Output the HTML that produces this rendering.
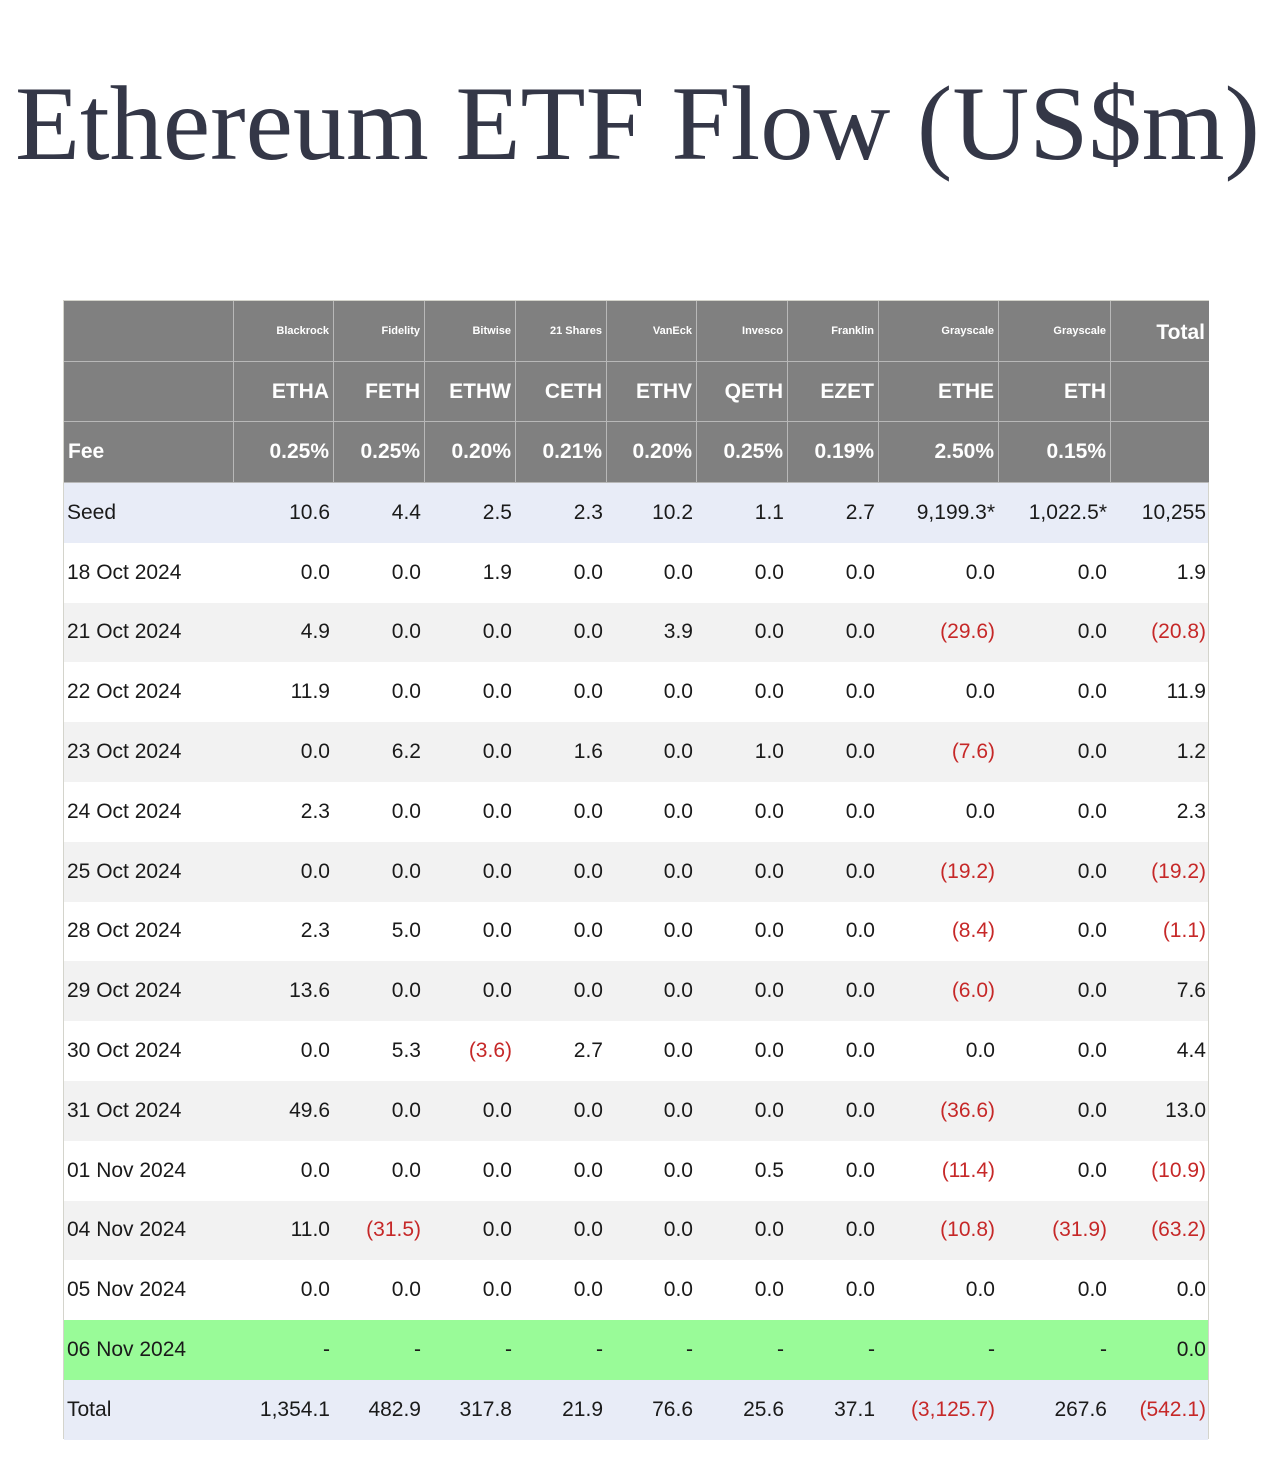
<!DOCTYPE html>
<html><head><meta charset="utf-8"><style>
body{margin:0;width:1280px;height:1460px;background:#fff;position:relative;overflow:hidden;font-family:"Liberation Sans",Arial,sans-serif}
#tbl{position:absolute;left:63px;top:300px;width:1146px;height:1139px;border:1px solid #d4d4cc;box-sizing:border-box}
.c{position:absolute;box-sizing:border-box;display:flex;align-items:center;justify-content:flex-end;padding-right:4px;font-size:21px;color:#1a1a1a;white-space:nowrap}
.h{background:#808080;color:#fff;font-weight:bold;border-right:1px solid #b8b8b8;border-bottom:1px solid #b8b8b8}
.neg{color:#c62828}
</style></head><body>
<svg style="position:absolute;left:0;top:0" width="1280" height="200"><text x="15" y="159" font-family="Liberation Serif, serif" font-size="106" fill="#343747" textLength="1245" lengthAdjust="spacingAndGlyphs">Ethereum ETF Flow (US$m)</text></svg>
<div id="tbl"></div>
<script>
const providers=["Blackrock","Fidelity","Bitwise","21 Shares","VanEck","Invesco","Franklin","Grayscale","Grayscale"];
const tickers=["ETHA","FETH","ETHW","CETH","ETHV","QETH","EZET","ETHE","ETH"];
const fees=["0.25%","0.25%","0.20%","0.21%","0.20%","0.25%","0.19%","2.50%","0.15%"];
const rowLabels=["Seed","18 Oct 2024","21 Oct 2024","22 Oct 2024","23 Oct 2024","24 Oct 2024","25 Oct 2024","28 Oct 2024","29 Oct 2024","30 Oct 2024","31 Oct 2024","01 Nov 2024","04 Nov 2024","05 Nov 2024","06 Nov 2024","Total"];
const rows=[
["10.6","4.4","2.5","2.3","10.2","1.1","2.7","9,199.3*","1,022.5*","10,255"],
["0.0","0.0","1.9","0.0","0.0","0.0","0.0","0.0","0.0","1.9"],
["4.9","0.0","0.0","0.0","3.9","0.0","0.0","(29.6)","0.0","(20.8)"],
["11.9","0.0","0.0","0.0","0.0","0.0","0.0","0.0","0.0","11.9"],
["0.0","6.2","0.0","1.6","0.0","1.0","0.0","(7.6)","0.0","1.2"],
["2.3","0.0","0.0","0.0","0.0","0.0","0.0","0.0","0.0","2.3"],
["0.0","0.0","0.0","0.0","0.0","0.0","0.0","(19.2)","0.0","(19.2)"],
["2.3","5.0","0.0","0.0","0.0","0.0","0.0","(8.4)","0.0","(1.1)"],
["13.6","0.0","0.0","0.0","0.0","0.0","0.0","(6.0)","0.0","7.6"],
["0.0","5.3","(3.6)","2.7","0.0","0.0","0.0","0.0","0.0","4.4"],
["49.6","0.0","0.0","0.0","0.0","0.0","0.0","(36.6)","0.0","13.0"],
["0.0","0.0","0.0","0.0","0.0","0.5","0.0","(11.4)","0.0","(10.9)"],
["11.0","(31.5)","0.0","0.0","0.0","0.0","0.0","(10.8)","(31.9)","(63.2)"],
["0.0","0.0","0.0","0.0","0.0","0.0","0.0","0.0","0.0","0.0"],
["-","-","-","-","-","-","-","-","-","0.0"],
["1,354.1","482.9","317.8","21.9","76.6","25.6","37.1","(3,125.7)","267.6","(542.1)"]];
const colX=[0,170,270,361,452,543,633,724,815,935,1047,1145];
const hdrY=[0,61,121,182];
const rowH=59.8;
const T=document.getElementById('tbl');
function cell(x,y,w,h,txt,cls,name){
 const d=document.createElement('div');
 d.className='c '+cls;
 d.style.left=x+'px';d.style.top=y+'px';d.style.width=w+'px';d.style.height=h+'px';
 d.textContent=txt;
 
 
 T.appendChild(d);return d;}
for(let r=0;r<3;r++){
 for(let c=0;c<11;c++){
  let txt='';
  if(c>0&&c<10)txt=[providers,tickers,fees][r][c-1];
  if(r==0&&c==10)txt='Total';
  if(r==2&&c==0)txt='Fee';
  const d=cell(colX[c],hdrY[r],colX[c+1]-colX[c],hdrY[r+1]-hdrY[r],txt,'h','header-cell');
  if(r==0&&c<10){d.style.fontSize='11px';}
  if(r==0&&c==10){d.style.fontSize='21px';d.style.alignItems='flex-start';d.style.paddingTop='20px';}
  if(c==0){d.style.justifyContent='flex-start';d.style.paddingLeft='4px';}
  if(c==10)d.style.borderRight='none';
 }
}
rowLabels.forEach((lab,i)=>{
 const y=182+i*rowH;
 let bg=i%2==0?'#f2f2f2':'#ffffff';
 if(i==0||i==15)bg='#e8ecf7';
 if(i==14)bg='#99fb98';
 const rb=document.createElement('div');
 rb.style.cssText='position:absolute;left:0;width:1144px;top:'+y+'px;height:'+rowH+'px;background:'+bg;
 
 
 T.appendChild(rb);
 const l=cell(0,y,170,rowH,lab,'','row-label');
 l.style.justifyContent='flex-start';l.style.paddingLeft='3px';
 rows[i].forEach((v,c)=>{
  const d=cell(colX[c+1],y,colX[c+2]-colX[c+1],rowH,v,v.startsWith('(')?'neg':'','value-cell');
  if(c==9)d.style.paddingRight='3px';
 });
});
</script>
</body></html>
